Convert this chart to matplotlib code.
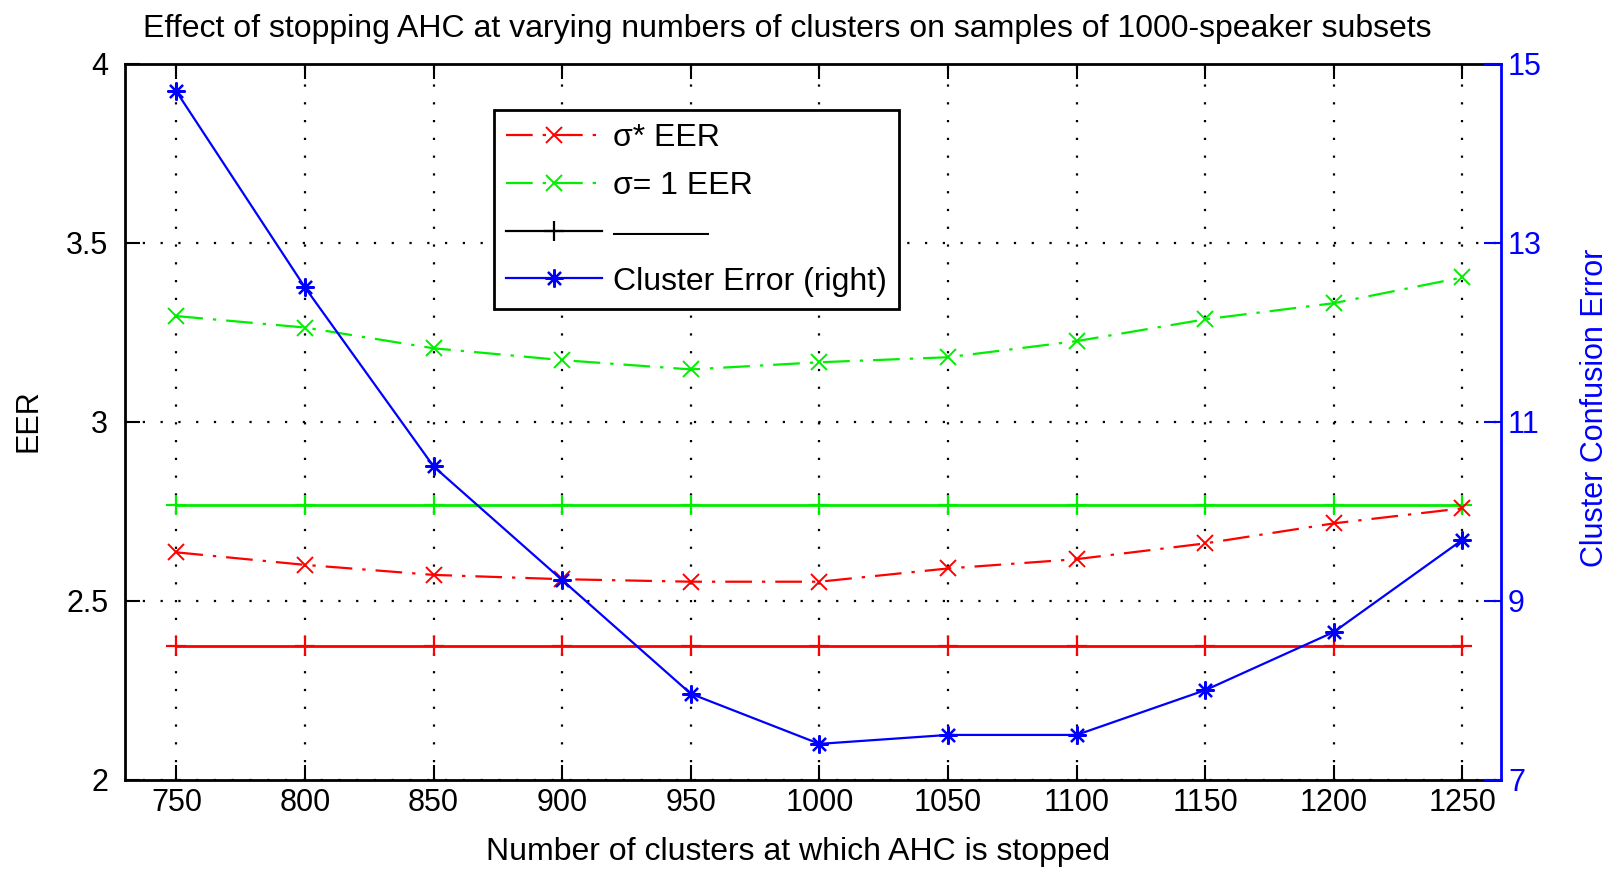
import matplotlib
matplotlib.use("Agg")
import matplotlib.pyplot as plt
from matplotlib import font_manager
from matplotlib.lines import Line2D

# ---- data ----
clusters = [750, 800, 850, 900, 950, 1000, 1050, 1100, 1150, 1200, 1250]
eer_sigma_star = [2.635, 2.600, 2.572, 2.560, 2.553, 2.553, 2.590, 2.616, 2.660, 2.716, 2.758]
eer_sigma_one = [3.295, 3.263, 3.205, 3.172, 3.146, 3.166, 3.180, 3.225, 3.286, 3.331, 3.403]
base_sigma_star = [2.373, 2.373, 2.373, 2.373, 2.373, 2.373, 2.373, 2.373, 2.373, 2.373, 2.373]
base_sigma_one = [2.767, 2.767, 2.767, 2.767, 2.767, 2.767, 2.767, 2.767, 2.767, 2.767, 2.767]
cluster_error = [14.69, 12.50, 10.50, 9.23, 7.96, 7.40, 7.50, 7.50, 8.00, 8.65, 9.68]

eer_ticks = [2, 2.5, 3, 3.5, 4]
eer_ticklabels = ["2", "2.5", "3", "3.5", "4"]
err_ticks = [7, 9, 11, 13, 15]

# 字体：优先窄体，接近 MATLAB 的字形
names = {f.name for f in font_manager.fontManager.ttflist}
fam = "Liberation Sans Narrow" if "Liberation Sans Narrow" in names else "Liberation Sans"
plt.rcParams["font.family"] = [fam, "DejaVu Sans"]

RED, GREEN, BLUE = "#ff0000", "#00ee00", "#0000ff"
dashdot = (0, (12, 4.5, 1.5, 4.5))

fig = plt.figure(figsize=(16.1, 8.69), dpi=100)
ax1 = fig.add_axes([0.0776, 0.1028, 0.8547, 0.8239])

# 基线（实线 + 标记）
ax1.plot(clusters, base_sigma_star, color=RED, lw=2, marker="+", ms=15, mew=1.6)
ax1.plot(clusters, base_sigma_one, color=GREEN, lw=2, marker="+", ms=15, mew=1.6)
# 点划线
l_star, = ax1.plot(clusters, eer_sigma_star, color=RED, lw=1.6, ls=dashdot,
                   marker="x", ms=11, mew=1.4)
l_one, = ax1.plot(clusters, eer_sigma_one, color=GREEN, lw=1.6, ls=dashdot,
                  marker="x", ms=11, mew=1.4)

ax1.set_xlim(730, 1265)
ax1.set_ylim(2, 4)
ax1.set_xticks(clusters)
ax1.set_yticks(eer_ticks)
ax1.set_yticklabels(eer_ticklabels)
ax1.tick_params(axis="both", direction="in", length=11, width=1.5,
                labelsize=22, top=True, right=False)
ax1.tick_params(axis="y", pad=12)
ax1.tick_params(axis="x", pad=6)
for s in ["left", "bottom", "top"]:
    ax1.spines[s].set_linewidth(2)
ax1.spines["right"].set_visible(False)
ax1.grid(True, color="black", linestyle=(0, (1, 7)), lw=1.6)

ax2 = ax1.twinx()
l_err, = ax2.plot(clusters, cluster_error, color=BLUE, lw=1.6,
                  marker=(8, 2, 0), ms=13, mew=1.6)
ax2.set_ylim(7, 15)
ax2.set_yticks(err_ticks)
ax2.tick_params(axis="y", direction="in", length=12, width=1.5, colors=BLUE,
                labelsize=22, pad=5)
for s in ["left", "bottom", "top"]:
    ax2.spines[s].set_visible(False)
ax2.spines["right"].set_color(BLUE)
ax2.spines["right"].set_linewidth(2)

# 图例
h_base = Line2D([], [], color="black", lw=1.6, marker="+", ms=15, mew=1.6)
leg = ax2.legend([l_star, l_one, h_base, l_err],
                 ["σ* EER", "σ= 1 EER", "———", "Cluster Error (right)"],
                 loc="upper left", bbox_to_anchor=(0.268, 0.935),
                 borderaxespad=0, fontsize=23, handlelength=3.0,
                 handletextpad=0.32, labelspacing=0.56, borderpad=0.4,
                 fancybox=False, framealpha=1, edgecolor="black")
leg.get_frame().set_linewidth(2)

# 标题与轴标签
fig.text(0.4888, 0.967, "Effect of stopping AHC at varying numbers of clusters on samples of 1000-speaker subsets",
         ha="center", va="center", fontsize=23)
fig.text(0.4957, 0.019, "Number of clusters at which AHC is stopped",
         ha="center", va="center", fontsize=23)
fig.text(0.018, 0.5155, "EER", ha="center", va="center", rotation=90, fontsize=22)
fig.text(0.9907, 0.5305, "Cluster Confusion Error", ha="center", va="center",
         rotation=90, fontsize=22, color=BLUE)

fig.savefig("out.png", dpi=100)
